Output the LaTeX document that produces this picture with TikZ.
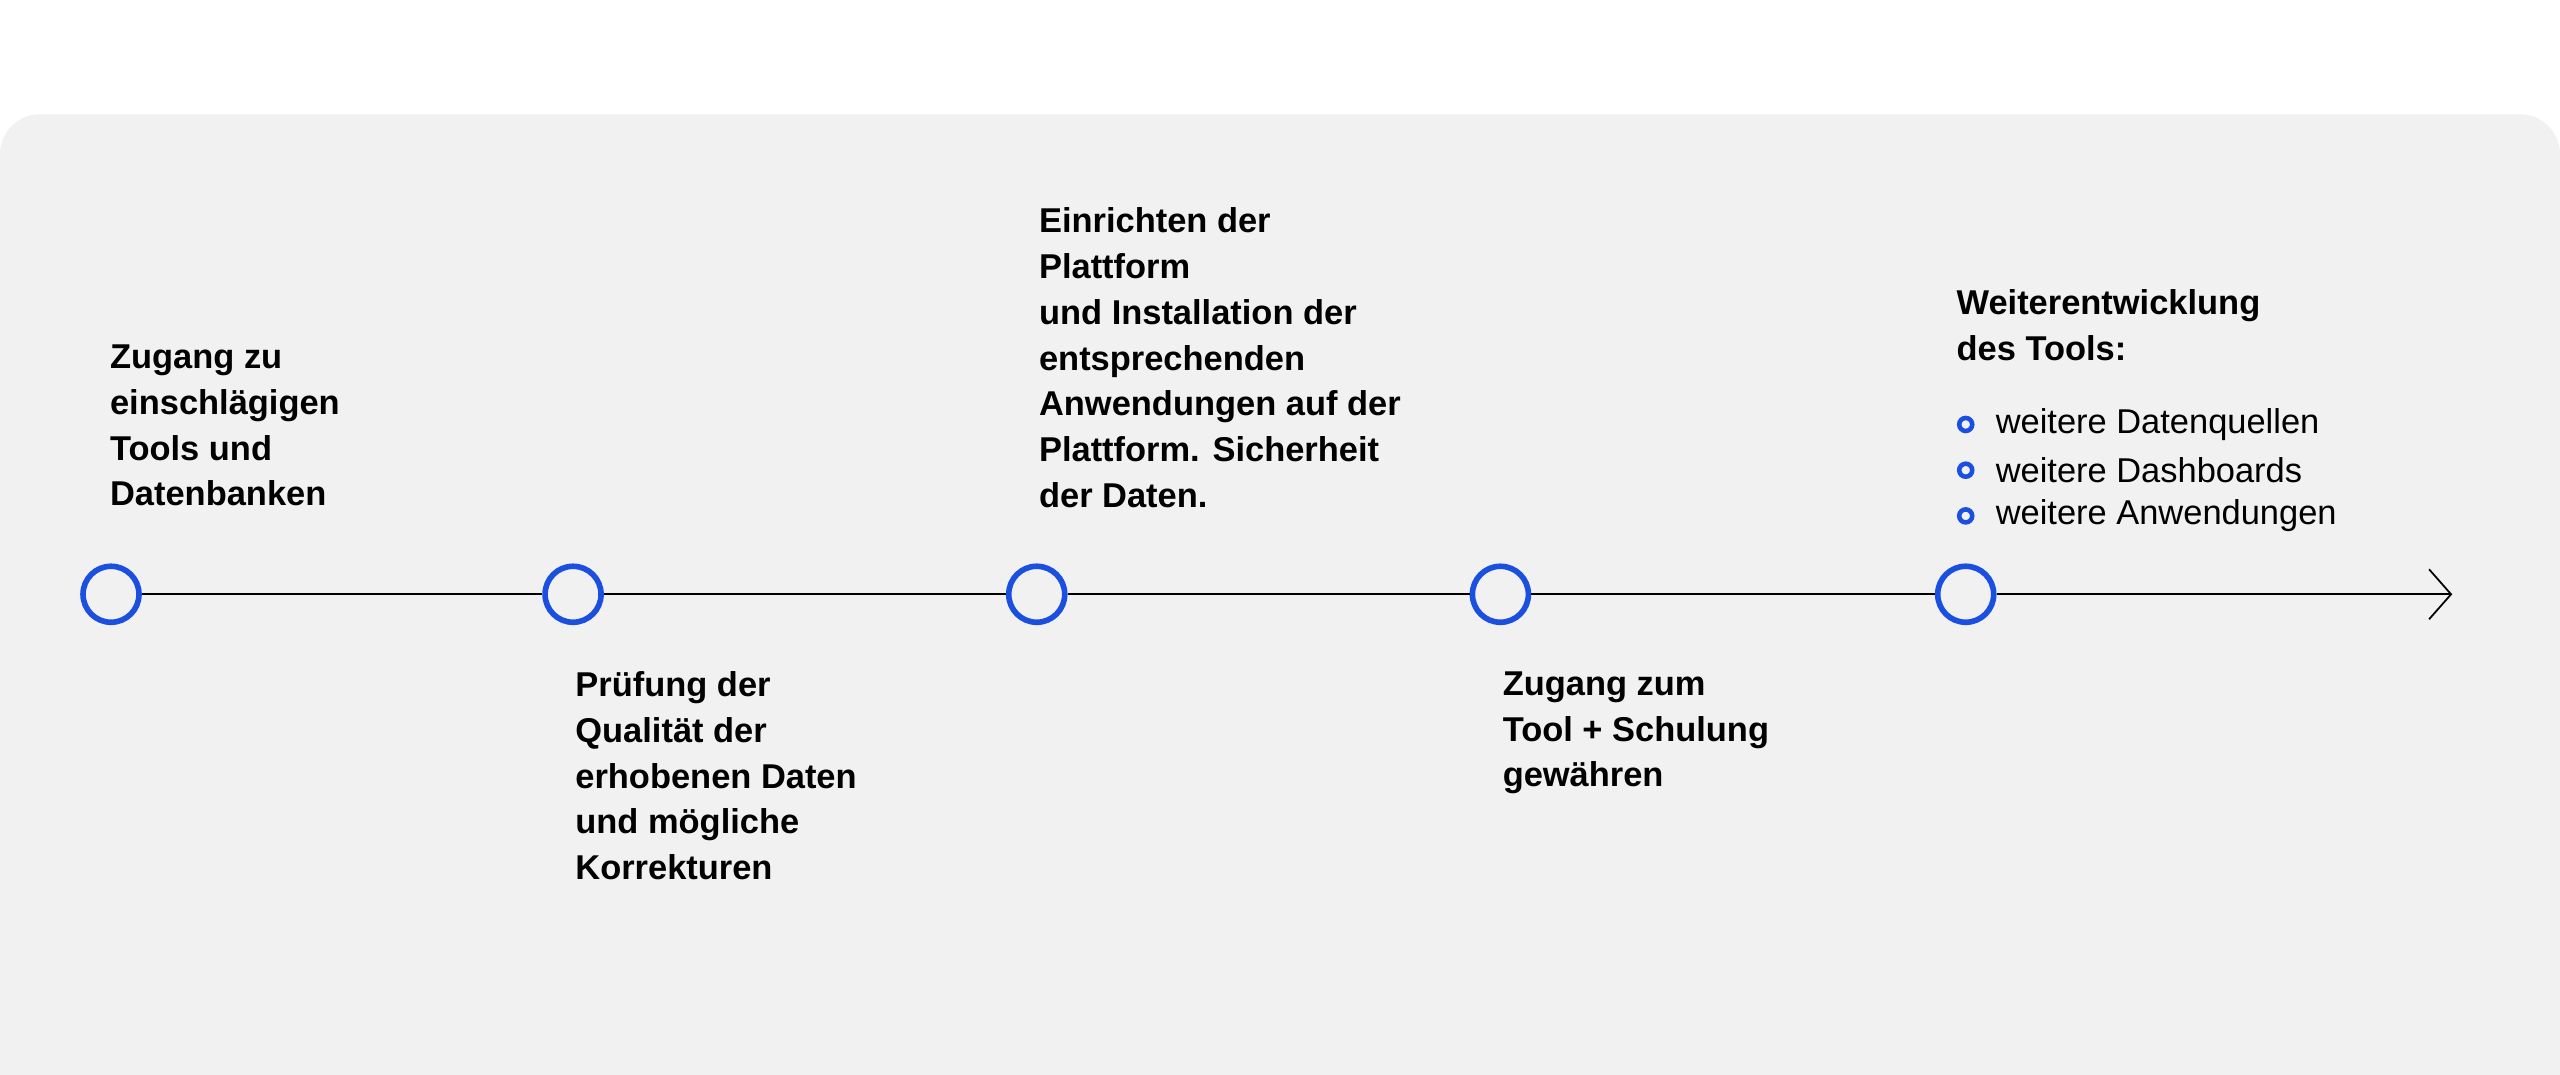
\documentclass[tikz,border=0pt]{standalone}
\usepackage{fontspec}
\setmainfont{Liberation Sans}
\usetikzlibrary{arrows.meta}
\definecolor{bg}{HTML}{F1F1F1}
\definecolor{blu}{HTML}{1A4FE0}
\tikzset{
 ms/.style={circle,draw=blu,line width=1.6pt,fill=bg,minimum size=0.56cm,inner sep=0},
 lbl/.style={anchor=north west,align=left,inner sep=0,font=\fontsize{9.8}{13}\selectfont\bfseries},
 bl/.style={anchor=west,inner sep=0,font=\fontsize{9.8}{13}\selectfont},
 dot/.style={circle,draw=blu,line width=1.3pt,minimum size=0.13cm,inner sep=0}
}
\begin{document}
\begin{tikzpicture}[x=0.016327cm,y=-0.016327cm]
\useasboundingbox (0,0) rectangle (1568,658);
\fill[bg,rounded corners=0.4cm] (0,70) rectangle (1568,690);
\coordinate (end) at (1502,364);
\node[ms] (m1) at (68,364) {};
\node[ms] (m2) at (351,364) {};
\node[ms] (m3) at (635,364) {};
\node[ms] (m4) at (919,364) {};
\node[ms] (m5) at (1204,364) {};
\draw[line width=0.5pt] (m1)--(m2) (m2)--(m3) (m3)--(m4) (m4)--(m5);
\draw[line width=0.5pt,-{Straight Barb[length=0.22cm,width=0.5cm]}] (m5)--(end);
\node[lbl] (t1) at (67,211) {Zugang zu\\einschlägigen\\Tools und\\Datenbanken};
\node[lbl] (t2) at (352,411) {Prüfung der\\Qualität der\\erhobenen Daten\\und mögliche\\Korrekturen};
\node[lbl] (t3) at (636,127) {Einrichten der\\Plattform\\und Installation der\\entsprechenden\\Anwendungen auf der\\Plattform. Sicherheit\\der Daten.};
\node[lbl] (t4) at (920,411) {Zugang zum\\Tool + Schulung\\gewähren};
\node[lbl] (t5) at (1198,177) {Weiterentwicklung\\des Tools:};
\node[dot] (d1) at (1204,260) {};
\node[dot] (d2) at (1204,288) {};
\node[dot] (d3) at (1204,316) {};
\node[bl] (b1) at (1222,260) {weitere Datenquellen};
\node[bl] (b2) at (1222,288) {weitere Dashboards};
\node[bl] (b3) at (1222,316) {weitere Anwendungen};
\end{tikzpicture}
\end{document}
